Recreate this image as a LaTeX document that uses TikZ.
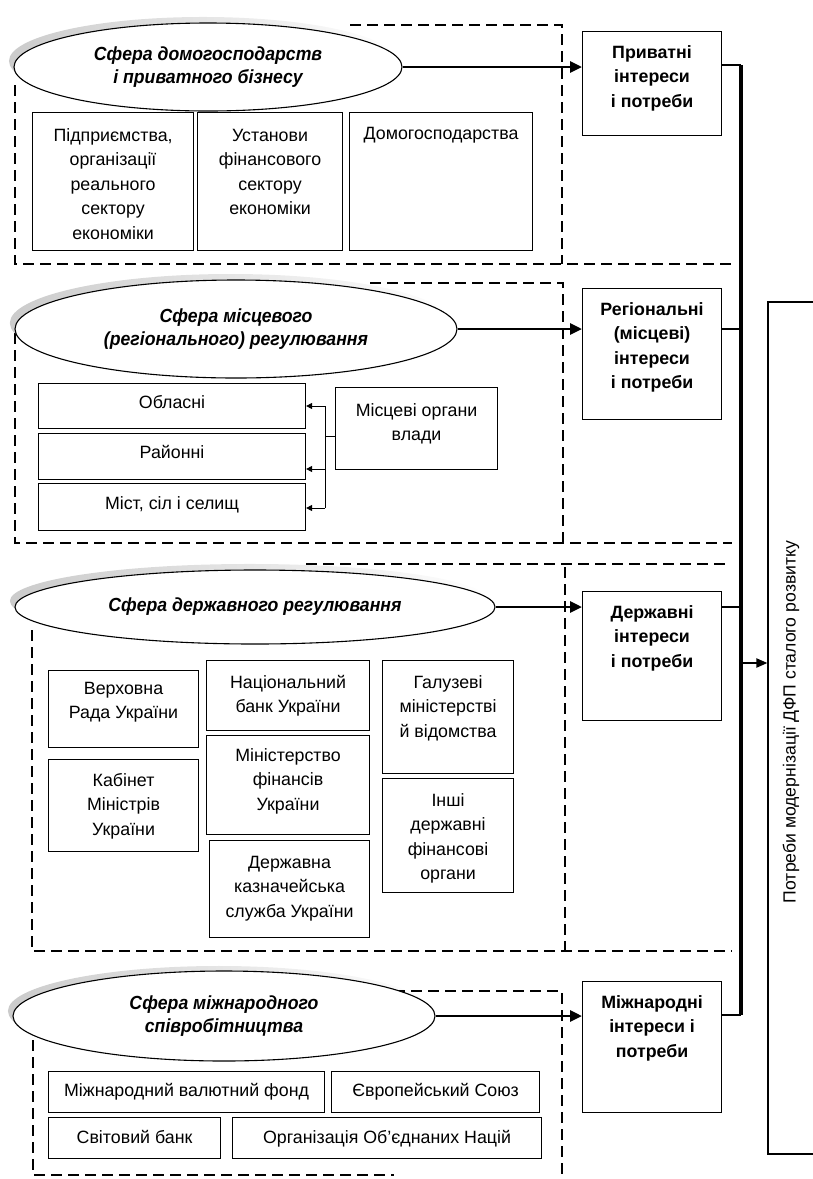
\documentclass[tikz,border=0pt]{standalone}
\usepackage{fontspec}
\setmainfont{Liberation Sans}
\newfontfamily\elfont{Liberation Sans}[FakeStretch=0.93]
\usetikzlibrary{arrows.meta,fadings,shapes.geometric}
\tikzfading[name=shfade, left color=transparent!0, right color=transparent!100]
\tikzset{
  box/.style={draw, line width=1.1pt, fill=white, font=\fontsize{17.8}{24.5}\selectfont},
  bbox/.style={box, font=\fontsize{17.8}{24.5}\selectfont\bfseries},
  dsh/.style={line width=1.9pt, dash pattern=on 11pt off 6pt},
  ell/.style={ellipse, draw, line width=1.1pt, fill=white, inner sep=0pt, align=center,
    font=\elfont\bfseries\itshape\fontsize{19}{23}\selectfont},
  shd/.style={fill=black!45, opacity=0.45, path fading=shfade},
  thickarrow/.style={line width=2.8pt, -{Triangle[length=12pt,width=11pt]}},
  thickline/.style={line width=2.8pt},
  barline/.style={line width=3.2pt},
  midarrow/.style={line width=2pt, -{Triangle[length=11pt,width=9pt]}},
  thinarrow/.style={line width=1pt, -{Triangle[length=6pt,width=6pt]}},
}
% #1 style, #2 x1, #3 y1, #4 x2, #5 y2, #6 name, #7 top gap, #8 text
\newcommand\tb[8][box]{%
  \pgfmathsetmacro\bw{#4-#2}\pgfmathsetmacro\bh{#5-#3}%
  \node[#1, anchor=north west, inner sep=0pt, minimum width=\bw pt, minimum height=\bh pt] (#6) at (#2,#3)
    {\parbox[t][\bh pt][t]{\bw pt}{\centering\vspace*{#7pt}\strut #8}};}
\begin{document}
\begin{tikzpicture}[x=1pt,y=-1pt]
\useasboundingbox (0,0) rectangle (813,1179);
% dashed frames
\draw[dsh] (350,25) -- (562,25) -- (562,264);
\draw[dsh] (15,85) -- (15,264) -- (732,264);
\draw[dsh] (370,283) -- (563,283) -- (563,543);
\draw[dsh] (15,333) -- (15,543) -- (732,543);
\draw[dsh] (306,564) -- (727,564);
\draw[dsh] (565,567) -- (565,951);
\draw[dsh] (32,630) -- (32,951) -- (732,951);
\draw[dsh] (394,991) -- (562,991) -- (562,1185);
\draw[dsh] (33,1040) -- (33,1175) -- (394,1175);
% ellipse shadows
\fill[shd] (203,61) ellipse [x radius=194, y radius=44];
\fill[shd] (231,323) ellipse [x radius=221, y radius=49];
\fill[shd] (250,601) ellipse [x radius=240, y radius=37];
\fill[shd] (219,1011) ellipse [x radius=211, y radius=45];
% ellipses
\node[ell, minimum width=388pt, minimum height=88pt] (e1) at (208,67) {Сфера домогосподарств\\і приватного бізнесу};
\node[ell, minimum width=442pt, minimum height=98pt] (e2) at (236,329) {Сфера місцевого\\(регіонального) регулювання};
\node[ell, minimum width=480pt, minimum height=74pt] (e3) at (255,607) {Сфера державного регулювання};
\node[ell, minimum width=422pt, minimum height=90pt] (e4) at (224,1016) {Сфера міжнародного\\співробітництва};
% section 1 boxes
\tb{32}{112}{193}{250}{b11}{11.35}{Підприємства,\\організації\\реального\\сектору\\економіки}
\tb{197}{112}{342}{250}{b12}{11.35}{Установи\\фінансового\\сектору\\економіки}
\tb{349}{112}{532}{250}{b13}{9.35}{Домогосподарства}
% section 2 boxes
\tb{38}{383}{305}{428}{obl}{7.35}{Обласні}
\tb{38}{433}{305}{479}{ray}{7.35}{Районні}
\tb{38}{483}{305}{530}{mis}{8.35}{Міст, сіл і селищ}
\tb{335}{387}{497}{469}{mo}{11.35}{Місцеві органи\\влади}
% section 3 boxes
\tb{48}{670}{198}{747}{vr}{6.35}{Верховна\\Рада України}
\tb{48}{759}{198}{851}{km}{9.35}{Кабінет\\Міністрів\\України}
\tb{206}{660}{369}{730}{nbu}{10.35}{Національний\\банк України}
\tb{206}{735}{369}{834}{mf}{8.35}{Міністерство\\фінансів\\України}
\tb{209}{840}{369}{937}{dks}{10.35}{Державна\\казначейська\\служба України}
\tb{382}{660}{513}{773}{gm}{10.35}{Галузеві\\міністерстві\\й відомства}
\tb{382}{778}{513}{892}{ido}{10.35}{Інші\\державні\\фінансові\\органи}
% section 4 boxes
\tb{48}{1071}{324}{1112}{mvf}{7.35}{Міжнародний валютний фонд}
\tb{331}{1071}{539}{1112}{es}{7.35}{Європейський Союз}
\tb{48}{1117}{220}{1158}{sb}{8.35}{Світовий банк}
\tb{232}{1117}{541}{1158}{oon}{8.35}{Організація Об’єднаних Націй}
% interest boxes
\tb[bbox]{582}{31}{721}{135}{priv}{9.35}{Приватні\\інтереси\\і потреби}
\tb[bbox]{582}{288}{721}{419}{reg}{9.35}{Регіональні\\(місцеві)\\інтереси\\і потреби}
\tb[bbox]{582}{591}{721}{720}{der}{9.35}{Державні\\інтереси\\і потреби}
\tb[bbox]{582}{981}{721}{1112}{miz}{9.35}{Міжнародні\\інтереси і\\потреби}
% big box
\node[box, minimum width=48pt, minimum height=852pt, inner sep=0pt] (need) at (792,728) {};
\node[rotate=90, font=\fontsize{17.6}{20}\selectfont] (needtxt) at (791,722) {Потреби модернізації ДФП сталого розвитку};
% bar
\coordinate (bart) at (741,65);
\coordinate (barb) at (741,1015);
\coordinate (bm) at (741,663);
\draw[barline] (bart) -- (barb);
% arrows ellipse -> interest boxes, boxes -> bar
\draw[thickarrow] (e1.east) -- (e1.east -| priv.west);
\draw[thickline] (priv.east |- bart) -- (bart);
\draw[thickarrow] (e2.east) -- (e2.east -| reg.west);
\draw[thickline] (e2.east -| reg.east) -- (e2.east -| bart);
\draw[thickarrow] (e3.east) -- (e3.east -| der.west);
\draw[thickline] (e3.east -| der.east) -- (e3.east -| bart);
\draw[thickarrow] (e4.east) -- (e4.east -| miz.west);
\draw[thickline] (miz.east |- barb) -- (barb);
\draw[midarrow] (bm) -- (bm -| need.west);
% local authorities connectors
\coordinate (jm) at (325,436);
\coordinate (j1) at (325,406);
\coordinate (j2) at (325,469);
\coordinate (j3) at (325,508);
\draw[line width=1pt] (jm -| mo.west) -- (jm);
\draw[line width=1pt] (j1) -- (j3);
\draw[thinarrow] (j1) -- (j1 -| obl.east);
\draw[thinarrow] (j2) -- (j2 -| ray.east);
\draw[thinarrow] (j3) -- (j3 -| mis.east);
\end{tikzpicture}
\end{document}
